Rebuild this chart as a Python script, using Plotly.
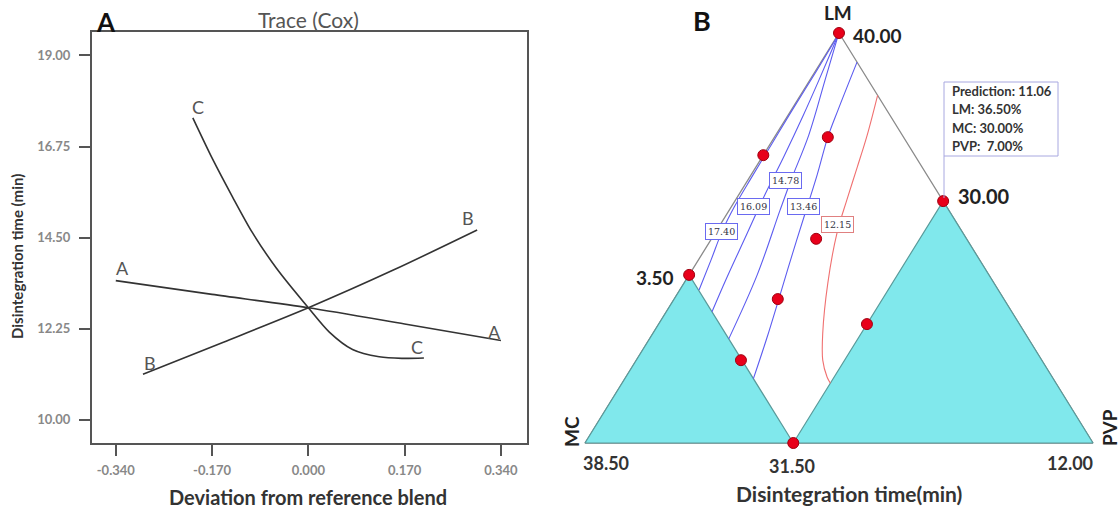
import numpy as np
import plotly.graph_objects as go

W, H = 1120, 512

# ---------------- Panel A : Trace (Cox) ----------------
dev_A = [-0.340, -0.170, 0.000, 0.170, 0.340]
time_A = [13.44, 13.10, 12.77, 12.37, 11.96]
dev_B = [-0.292, -0.150, 0.000, 0.150, 0.298]
time_B = [11.13, 11.92, 12.77, 13.70, 14.69]
dev_C = [-0.204, -0.169, -0.134, -0.099, -0.056, 0.000, 0.037, 0.078, 0.125, 0.165, 0.204]
time_C = [17.46, 16.44, 15.51, 14.63, 13.74, 12.77, 12.17, 11.74, 11.56, 11.52, 11.53]
x_ticks = [-0.340, -0.170, 0.000, 0.170, 0.340]
y_ticks = [10.00, 12.25, 14.50, 16.75, 19.00]

# ---------------- Panel B : mixture (LM, MC, PVP) ----------------
design_lm = [1.000, 0.702, 0.746, 0.498, 0.351, 0.202, 0.410, 0.290, 0.000, 0.590]
design_pvp = [0.000, 0.000, 0.105, 0.206, 0.204, 0.206, 0.000, 0.410, 0.410, 0.410]

c1740_lm = [0.995, 0.905, 0.807, 0.727, 0.646, 0.576, 0.515, 0.446, 0.373]
c1740_pvp = [0.001, 0.002, 0.002, 0.003, 0.004, 0.006, 0.012, 0.025, 0.038]
c1609_lm = [0.995, 0.950, 0.885, 0.800, 0.700, 0.600, 0.500, 0.400, 0.320]
c1609_pvp = [0.001, 0.008, 0.018, 0.030, 0.042, 0.052, 0.065, 0.078, 0.090]
c1478_lm = [0.995, 0.885, 0.751, 0.641, 0.568, 0.410, 0.254]
c1478_pvp = [0.001, 0.030, 0.065, 0.085, 0.100, 0.134, 0.156]
c1346_lm = [0.929, 0.812, 0.746, 0.654, 0.561, 0.456, 0.351, 0.256, 0.157]
c1346_pvp = [0.071, 0.092, 0.105, 0.130, 0.153, 0.179, 0.206, 0.230, 0.253]
c1215_lm = [0.848, 0.751, 0.671, 0.593, 0.512, 0.390, 0.268, 0.202, 0.161, 0.146]
c1215_pvp = [0.152, 0.180, 0.200, 0.219, 0.240, 0.283, 0.334, 0.367, 0.396, 0.410]

level_text = ["17.40", "16.09", "14.78", "13.46", "12.15"]
label_lm = [0.515, 0.578, 0.641, 0.578, 0.532]
label_pvp = [0.012, 0.042, 0.075, 0.142, 0.232]

mc_limit_lm = [0.000, 0.410, 0.000]
mc_limit_pvp = [0.000, 0.000, 0.410]
pvp_limit_lm = [0.000, 0.000, 0.590]
pvp_limit_pvp = [1.000, 0.410, 0.410]

pred_lines = ["Prediction: 11.06", "LM: 36.50%", "MC: 30.00%", "PVP:  7.00%"]


def tern(lm, pvp):
    lm = np.asarray(lm, float)
    pvp = np.asarray(pvp, float)
    return pvp + lm / 2.0, lm


def pp(px, py):
    return px / W, 1 - py / H


FONT = "Lato"
fig = go.Figure()

# ---- panel A traces
for xs, ys in [(dev_A, time_A), (dev_B, time_B), (dev_C, time_C)]:
    fig.add_trace(go.Scatter(x=xs, y=ys, mode="lines", line=dict(color="#333", width=1.6, shape="spline",
                                                                   smoothing=0.8),
                             xaxis="x", yaxis="y", showlegend=False, hoverinfo="skip"))

# ---- panel B
tx, ty = tern([1, 0, 0, 1], [0, 0, 1, 0])
fig.add_trace(go.Scatter(x=tx, y=ty, mode="lines", line=dict(color="#8a8a8a", width=1.3),
                         xaxis="x2", yaxis="y2", showlegend=False, hoverinfo="skip"))
for lm_, pv_ in [(mc_limit_lm, mc_limit_pvp), (pvp_limit_lm, pvp_limit_pvp)]:
    x_, y_ = tern(lm_ + [lm_[0]], pv_ + [pv_[0]])
    fig.add_trace(go.Scatter(x=x_, y=y_, mode="lines", fill="toself", fillcolor="#80E8EC",
                             line=dict(color="#5a9a9a", width=1.2), xaxis="x2", yaxis="y2",
                             showlegend=False, hoverinfo="skip"))

contours = [(c1740_lm, c1740_pvp), (c1609_lm, c1609_pvp), (c1478_lm, c1478_pvp),
            (c1346_lm, c1346_pvp), (c1215_lm, c1215_pvp)]
for i, (lm_, pv_) in enumerate(contours):
    x_, y_ = tern(lm_, pv_)
    col = "#f07070" if i == 4 else "#5c5cf0"
    fig.add_trace(go.Scatter(x=x_, y=y_, mode="lines", line=dict(color=col, width=1.1, shape="spline"),
                             xaxis="x2", yaxis="y2", showlegend=False, hoverinfo="skip"))

dx, dy = tern(design_lm, design_pvp)
fig.add_trace(go.Scatter(x=dx, y=dy, mode="markers",
                         marker=dict(color="#e8001a", size=11, line=dict(color="#a00010", width=1)),
                         xaxis="x2", yaxis="y2", showlegend=False, hoverinfo="skip"))

annotations = []
lx, ly = tern(label_lm, label_pvp)
for i, t in enumerate(level_text):
    bc = "#e08080" if i == 4 else "#6a6af0"
    annotations.append(dict(x=lx[i], y=ly[i], xref="x2", yref="y2", text=t, showarrow=False,
                            font=dict(family="DejaVu Serif", size=9.5, color="#334"),
                            bgcolor="white", bordercolor=bc, borderwidth=1, borderpad=2))

# panel A labels on lines
line_labels = [("A", -0.329, 13.75), ("A", 0.328, 12.17), ("B", -0.280, 11.41), ("B", 0.282, 14.99),
               ("C", -0.194, 17.73), ("C", 0.192, 11.80)]
for t, x_, y_ in line_labels:
    annotations.append(dict(x=x_, y=y_, xref="x", yref="y", text=t, showarrow=False,
                            font=dict(family=FONT, size=18, color="#555")))


def txt(px, py, t, size, color="#222", bold=False, xanchor="center", angle=0, family=FONT):
    x_, y_ = pp(px, py)
    annotations.append(dict(x=x_, y=y_, xref="paper", yref="paper", text=("<b>%s</b>" % t) if bold else t,
                            showarrow=False, xanchor=xanchor, yanchor="middle", textangle=angle,
                            font=dict(family=family, size=size, color=color)))


txt(106, 22, "A", 26, "#111", True)
txt(308, 19, "Trace (Cox)", 21, "#555")
txt(17, 257, "Disintegration time (min)", 15, "#333", True, angle=-90)
txt(308, 497, "Deviation from reference blend", 20, "#333", True)

txt(702, 20, "B", 27, "#111", True)
txt(838, 12, "LM", 19, "#222", True)
txt(851, 35, "40.00", 19, "#222", True, "left")
txt(956, 196, "30.00", 20, "#222", True, "left")
txt(676, 277, "3.50", 19, "#222", True, "right")
txt(606, 463, "38.50", 18, "#333", True)
txt(792, 466, "31.50", 18, "#333", True)
txt(1070, 463, "12.00", 18, "#333", True)
txt(849, 493, "Disintegration time(min)", 21, "#333", True)
txt(571, 432, "MC", 19, "#222", True, angle=-90)
txt(1109, 428, "PVP", 19, "#222", True, angle=-90)

for k, line in enumerate(pred_lines):
    txt(950, 91 + k * 18.3, line, 13, "#333", True, "left")

bx0, by0 = pp(944, 156)
bx1, by1 = pp(1058, 82)
lx0, ly0 = pp(944, 198)
shapes = [
    dict(type="rect", xref="paper", yref="paper", x0=bx0, x1=bx1, y0=by0, y1=by1,
         line=dict(color="#a8a8e0", width=1)),
    dict(type="line", xref="paper", yref="paper", x0=lx0, x1=lx0, y0=ly0, y1=by0,
         line=dict(color="#a8a8e0", width=1)),
]

ax_l, ax_t = pp(92, 32)
ax_r, ax_b = pp(527, 443)
b_l, _ = pp(560, 0)

fig.update_layout(
    width=W, height=H, margin=dict(l=0, r=0, t=0, b=0),
    paper_bgcolor="white", plot_bgcolor="white",
    annotations=annotations, shapes=shapes,
    xaxis=dict(domain=[ax_l, ax_r], range=[-0.382, 0.386], showgrid=False, zeroline=False,
               showline=True, mirror=True, linecolor="#555", linewidth=2,
               ticks="outside", ticklen=11, tickwidth=2, tickcolor="#555", ticklabelstandoff=3,
               tickvals=x_ticks, ticktext=["<b>%.3f</b>" % v for v in x_ticks],
               tickfont=dict(family=FONT, size=13, color="#888")),
    yaxis=dict(domain=[ax_b, ax_t], range=[9.43, 19.58], showgrid=False, zeroline=False,
               showline=True, mirror=True, linecolor="#555", linewidth=2,
               ticks="outside", ticklen=11, tickwidth=2, tickcolor="#555", ticklabelstandoff=6,
               tickvals=y_ticks, ticktext=["<b>%.2f</b>" % v for v in y_ticks],
               tickfont=dict(family=FONT, size=13, color="#888")),
    xaxis2=dict(domain=[b_l, 1.0], range=[(560 - 585) / 508, (1120 - 585) / 508], visible=False,
                anchor="y2"),
    yaxis2=dict(domain=[0, 1], range=[(443 - 512) / 410, 443 / 410], visible=False, anchor="x2"),
)

fig.write_html("out.html", config={"displayModeBar": False},
               post_script="document.body.style.margin='0';document.body.style.overflow='hidden';")
